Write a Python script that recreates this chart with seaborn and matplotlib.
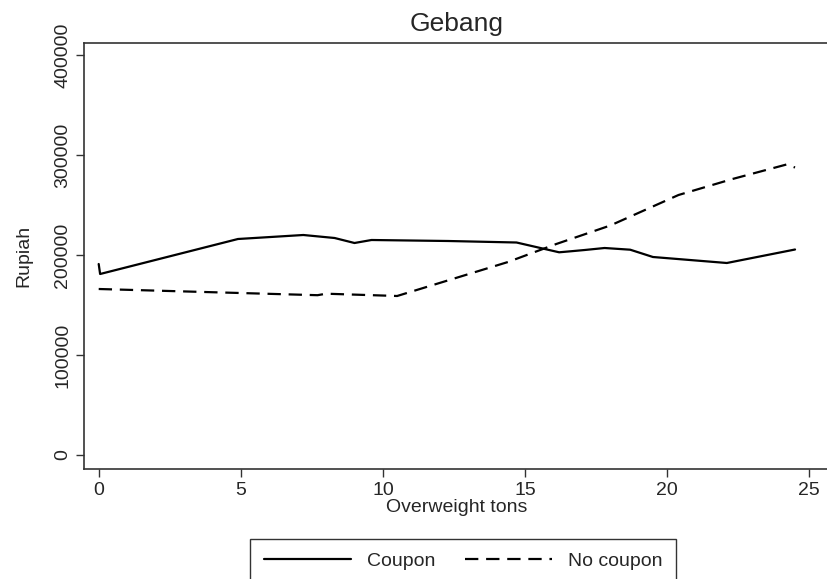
import matplotlib
matplotlib.use("Agg")
import matplotlib.pyplot as plt
import seaborn as sns
import pandas as pd
from matplotlib import font_manager
from matplotlib.lines import Line2D

# ---- data ----
coupon_x = [0, 0.05, 4.9, 7.2, 8.3, 9.0, 9.6, 12.3, 14.7, 16.2, 16.6, 17.1, 17.8, 18.7, 19.5, 22.1, 24.5]
coupon_y = [191000, 181000, 216000, 220000, 217000, 212000, 215000, 214000, 212500,
            202700, 203700, 205000, 207000, 205300, 198000, 192000, 205500]
nocoupon_x = [0, 7.7, 8.0, 10.5, 14.4, 16.1, 18.0, 20.4, 22.3, 24.2, 24.5]
nocoupon_y = [166000, 159800, 161300, 159000, 193000, 211000, 229500, 260000, 276000, 290500, 287500]
series_names = ["Coupon", "No coupon"]
x_ticks = [0, 5, 10, 15, 20, 25]
y_ticks = [0, 100000, 200000, 300000, 400000]
title = "Gebang"
x_label = "Overweight tons"
y_label = "Rupiah"

df = pd.concat([
    pd.DataFrame({"x": coupon_x, "y": coupon_y, "series": series_names[0]}),
    pd.DataFrame({"x": nocoupon_x, "y": nocoupon_y, "series": series_names[1]}),
], ignore_index=True)

sns.set_theme(style="white")
avail = {f.name for f in font_manager.fontManager.ttflist}
fam = ["Liberation Sans Narrow"] if "Liberation Sans Narrow" in avail else []
plt.rcParams["font.family"] = fam + ["Liberation Sans", "DejaVu Sans"]

W, H = 828, 579
fig = plt.figure(figsize=(W / 100, H / 100), dpi=100)
left, right, top, bottom = 84, 830, 42.5, 469.3
ax = fig.add_axes([left / W, 1 - bottom / H, (right - left) / W, (bottom - top) / H])

sns.lineplot(data=df, x="x", y="y", style="series", ax=ax, color="black",
             estimator=None, sort=False, linewidth=1.6,
             dashes={series_names[0]: "", series_names[1]: (6, 3.5)}, legend=False)

ax.set_xlim(-0.517, 25.73)
ax.set_ylim(-14300, 412500)
ax.set_xticks(x_ticks)
ax.set_yticks(y_ticks)
ax.set_xticklabels([str(v) for v in x_ticks], fontsize=14)
ax.set_yticklabels([str(v) for v in y_ticks], fontsize=14, rotation=90, va="center")
ax.tick_params(axis="both", direction="out", length=6, width=1, color="#333333",
               bottom=True, left=True, pad=3)
ax.spines["right"].set_visible(False)
for s in ["left", "bottom", "top"]:
    ax.spines[s].set_color("#333333")
    ax.spines[s].set_linewidth(1.2)

ax.set_xlabel(x_label, fontsize=14, labelpad=0)
ax.set_ylabel(y_label, fontsize=14, labelpad=16)
ax.set_title(title, fontsize=19, pad=8)

handles = [Line2D([], [], color="black", lw=1.6),
           Line2D([], [], color="black", lw=1.6, dashes=(6, 3.5))]
leg = fig.legend(handles, series_names, loc="upper center", ncol=2,
                 bbox_to_anchor=(463 / W, 1 - 539 / H), fontsize=14, frameon=True,
                 fancybox=False, handlelength=4.5, columnspacing=1.5, borderpad=0.7,
                 handletextpad=0.8, borderaxespad=0)
leg.get_frame().set_edgecolor("black")
leg.get_frame().set_linewidth(1.0)

fig.savefig("out.png", dpi=100)
